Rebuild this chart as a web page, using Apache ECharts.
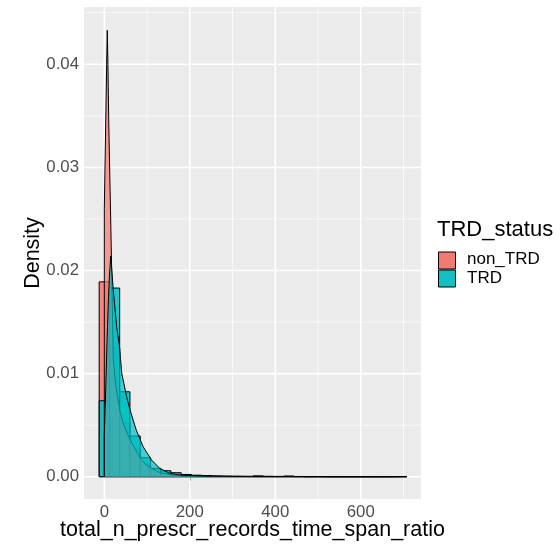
<!DOCTYPE html>
<html><head><meta charset="utf-8">
<script src="https://cdn.jsdelivr.net/npm/echarts@6/dist/echarts.min.js"></script>
<style>html,body{margin:0;padding:0;background:#fff}#c{width:560px;height:548px}</style>
</head><body><div id="c"></div>
<script>
// ---- data ----
const groups = ['non_TRD', 'TRD'];
const binEdges = [-12, 12, 36, 60, 84, 108, 132, 156, 180, 204, 228, 252, 276, 300, 324, 348,
  372, 396, 420, 444, 468, 492, 516, 540, 564, 588, 612, 636, 660, 684, 708];
const nonTrdHist = [0.0189, 0.0125, 0.0052, 0.0026, 0.0012, 0.00065, 0.00035, 0.0002, 0.00012, 0.00008,
  0.00006, 0.00004, 0.00003, 0.00002, 0.00002, 0.00001, 0.00001, 0.00001, 0.00001, 0,
  0, 0, 0, 0, 0, 0, 0, 0, 0, 0.00001];
const trdHist = [0.00737, 0.0183, 0.00824, 0.00395, 0.00184, 0.00081, 0.00058, 0.00039, 0.00022, 0.00015,
  0.00012, 0.00006, 0.00004, 0.00003, 0.00002, 0.00008, 0.00003, 0.00002, 0.00007, 0.00002,
  0, 0.00001, 0, 0, 0, 0, 0, 0, 0.00001, 0.00001];
const nonTrdDensX = [0, 2, 4, 5.5, 7, 8.5, 10.3, 13, 15, 17.3, 21, 25, 30, 37, 44, 60, 72, 84, 99, 111, 130, 155, 180, 250, 350, 450, 550, 690];
const nonTrdDensY = [0.026, 0.031, 0.036, 0.040, 0.0433, 0.040, 0.0346, 0.029, 0.0249, 0.0199, 0.0115, 0.0095, 0.0080, 0.0063, 0.0052, 0.0036, 0.0027, 0.0018, 0.0011, 0.00081, 0.00039, 0.0002, 0.0001, 0.00005, 0.00003, 0.00002, 0.00001, 0.00001];
const trdDensX = [0, 3, 6, 9, 12, 15, 18, 21, 25, 29, 35, 41, 52, 60, 75, 91, 111, 130, 153, 177, 220, 300, 400, 500, 600, 703];
const trdDensY = [0.004, 0.008, 0.0125, 0.0165, 0.0195, 0.0214, 0.0198, 0.0181, 0.0163, 0.0145, 0.0128, 0.0100, 0.0078, 0.0065, 0.0045, 0.0029, 0.0016, 0.0008, 0.00033, 0.00016, 0.00008, 0.00004, 0.00003, 0.00002, 0.00001, 0.00001];
const xTicks = [0, 200, 400, 600];
const xMinor = [100, 300, 500, 700];
const yTicks = [0, 0.01, 0.02, 0.03, 0.04];
const yMinor = [0.005, 0.015, 0.025, 0.035, 0.045];

// ---- styles ----
const FONT = '"Liberation Sans", Arial, Helvetica, sans-serif';
const histFill = ['rgba(248,118,109,0.85)', 'rgba(0,191,196,0.85)'];
const densFill = ['rgba(248,118,109,0.7)', 'rgba(0,191,196,0.7)'];

function histData(h) { return h.map((v, i) => [binEdges[i], binEdges[i + 1], v]); }
function densData(xs, ys) {
  const d = [[xs[0], 0]];
  xs.forEach((x, i) => d.push([x, ys[i]]));
  d.push([xs[xs.length - 1], 0]);
  return d;
}
function vGrid(vals, w, z) {
  return {
    type: 'custom', silent: true, z: z, data: vals.map(v => [v, 0]), encode: { x: 0, y: 1 },
    renderItem: (params, api) => {
      const cs = params.coordSys; const x = api.coord([api.value(0), 0])[0];
      return { type: 'line', shape: { x1: x, y1: cs.y, x2: x, y2: cs.y + cs.height }, style: { stroke: '#fff', lineWidth: w } };
    }
  };
}
function hGrid(vals, w, z) {
  return {
    type: 'custom', silent: true, z: z, data: vals.map(v => [0, v]), encode: { x: 0, y: 1 },
    renderItem: (params, api) => {
      const cs = params.coordSys; const y = api.coord([0, api.value(1)])[1];
      return { type: 'line', shape: { x1: cs.x, y1: y, x2: cs.x + cs.width, y2: y }, style: { stroke: '#fff', lineWidth: w } };
    }
  };
}
function histSeries(name, h, fill, z) {
  return {
    type: 'custom', name: name, z: z, silent: true, data: histData(h), encode: { x: [0, 1], y: 2 },
    renderItem: (params, api) => {
      const p0 = api.coord([api.value(0), 0]);
      const p1 = api.coord([api.value(1), api.value(2)]);
      return { type: 'rect', shape: { x: p0[0], y: p1[1], width: p1[0] - p0[0], height: p0[1] - p1[1] },
        style: { fill: fill, stroke: '#000', lineWidth: 1 } };
    }
  };
}
function densSeries(name, d, fill, z) {
  return {
    type: 'line', name: name + ' density', z: z, data: d, showSymbol: false, symbol: 'none', silent: true,
    lineStyle: { color: '#000', width: 1 }, areaStyle: { color: fill, opacity: 1 }
  };
}

const chart = echarts.init(document.getElementById('c'), null, { renderer: 'canvas' });
chart.setOption({
  animation: false,
  backgroundColor: '#fff',
  grid: { left: 84, right: 139, top: 7, bottom: 49, show: true, backgroundColor: '#EBEBEB', borderWidth: 0 },
  xAxis: {
    type: 'value', min: -47.5, max: 741,
    name: 'total_n_prescr_records_time_span_ratio', nameLocation: 'middle', nameGap: 20, nameMoveOverlap: false,
    nameTextStyle: { fontSize: 21.5, color: '#000', fontFamily: FONT },
    axisLine: { show: false }, splitLine: { show: false },
    axisTick: { show: true, length: 4, lineStyle: { color: '#333', width: 1 }, customValues: xTicks },
    axisLabel: { customValues: xTicks, fontSize: 16.8, color: '#4D4D4D', margin: 5, fontFamily: FONT }
  },
  yAxis: {
    type: 'value', min: -0.00216, max: 0.04556,
    name: 'Density', nameLocation: 'middle', nameGap: 40, nameMoveOverlap: false,
    nameTextStyle: { fontSize: 21.5, color: '#000', fontFamily: FONT },
    axisLine: { show: false }, splitLine: { show: false },
    axisTick: { show: true, length: 4, lineStyle: { color: '#333', width: 1 }, customValues: yTicks },
    axisLabel: { customValues: yTicks, formatter: v => v.toFixed(2), fontSize: 16.8, color: '#4D4D4D', margin: 5, fontFamily: FONT }
  },
  series: [
    vGrid(xMinor, 0.7, 1), hGrid(yMinor, 0.7, 1),
    vGrid(xTicks, 1.6, 1), hGrid(yTicks, 1.6, 1),
    histSeries(groups[0], nonTrdHist, histFill[0], 2),
    histSeries(groups[1], trdHist, histFill[1], 3),
    densSeries(groups[0], densData(nonTrdDensX, nonTrdDensY), densFill[0], 4),
    densSeries(groups[1], densData(trdDensX, trdDensY), densFill[1], 5)
  ],
  graphic: [
    { type: 'text', left: 437, top: 219, style: { text: 'TRD_status', fontSize: 22, fill: '#000', fontFamily: FONT } },
    { type: 'rect', shape: { x: 438.5, y: 252, width: 17, height: 17 }, style: { fill: '#F37A72', stroke: '#000', lineWidth: 1 } },
    { type: 'rect', shape: { x: 438.5, y: 270, width: 17, height: 17 }, style: { fill: '#12C0C4', stroke: '#000', lineWidth: 1 } },
    { type: 'text', left: 467, top: 251, style: { text: groups[0], fontSize: 17, fill: '#000', fontFamily: FONT } },
    { type: 'text', left: 467, top: 270, style: { text: groups[1], fontSize: 17, fill: '#000', fontFamily: FONT } }
  ]
});
</script></body></html>
